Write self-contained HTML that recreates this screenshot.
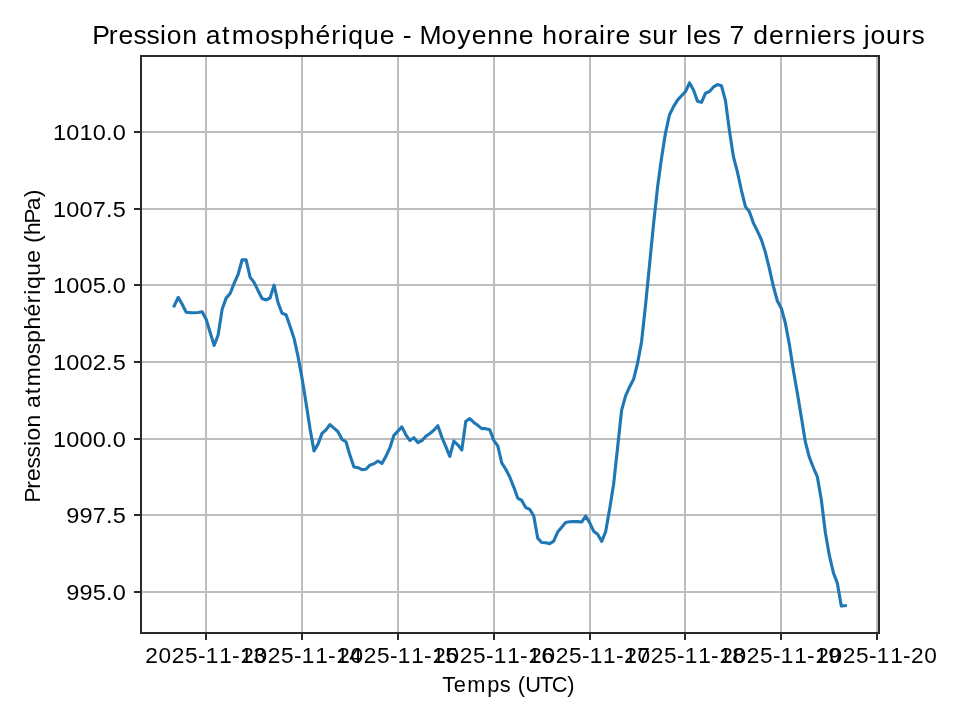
<!DOCTYPE html>
<html><head><meta charset="utf-8"><title>Pression atmosphérique</title>
<style>html,body{margin:0;padding:0;background:#fff;overflow:hidden}svg{display:block;will-change:transform}text{font-family:"Liberation Sans",sans-serif;fill:#000}</style></head><body>
<svg width="960" height="720" viewBox="0 0 960 720">
<rect x="0" y="0" width="960" height="720" fill="#ffffff"/>
<g fill="#bdbdbd" shape-rendering="crispEdges">
<rect x="205" y="57" width="2" height="575"/>
<rect x="301" y="57" width="2" height="575"/>
<rect x="397" y="57" width="2" height="575"/>
<rect x="493" y="57" width="2" height="575"/>
<rect x="589" y="57" width="2" height="575"/>
<rect x="684" y="57" width="2" height="575"/>
<rect x="780" y="57" width="2" height="575"/>
<rect x="876" y="57" width="2" height="575"/>
<rect x="142" y="131" width="736" height="2"/>
<rect x="142" y="208" width="736" height="2"/>
<rect x="142" y="284" width="736" height="2"/>
<rect x="142" y="361" width="736" height="2"/>
<rect x="142" y="438" width="736" height="2"/>
<rect x="142" y="514" width="736" height="2"/>
<rect x="142" y="591" width="736" height="2"/>
</g>
<path d="M174.20 305.95 L178.19 297.34 L182.19 304.22 L186.18 312.19 L190.18 312.59 L194.17 312.78 L198.17 312.56 L202.16 311.81 L206.16 319.25 L210.15 332.55 L214.15 345.45 L218.14 335.05 L222.13 309.35 L226.13 298.12 L230.12 293.55 L234.12 283.39 L238.11 274.35 L242.11 259.72 L246.10 259.88 L250.10 277.20 L254.09 282.34 L258.09 290.69 L262.08 298.48 L266.08 299.97 L270.07 297.99 L274.06 285.16 L278.06 302.75 L282.05 313.23 L286.05 314.69 L290.04 326.20 L294.04 338.38 L298.03 356.45 L302.03 378.14 L306.02 402.85 L310.02 428.73 L314.01 450.85 L318.00 444.13 L322.00 433.42 L325.99 429.84 L329.99 424.56 L333.98 428.15 L337.98 431.76 L341.97 439.31 L345.97 441.73 L349.96 455.32 L353.96 467.06 L357.95 467.63 L361.95 469.62 L365.94 469.27 L369.93 465.12 L373.93 463.79 L377.92 461.02 L381.92 463.40 L385.91 456.37 L389.91 447.75 L393.90 435.35 L397.90 431.18 L401.89 426.84 L405.89 434.92 L409.88 440.47 L413.88 437.75 L417.87 442.53 L421.86 440.61 L425.86 436.22 L429.85 433.43 L433.85 430.23 L437.84 425.77 L441.84 437.12 L445.83 446.58 L449.83 456.47 L453.82 441.04 L457.82 444.77 L461.81 450.12 L465.80 421.27 L469.80 418.54 L473.79 422.45 L477.79 425.34 L481.78 428.65 L485.78 428.65 L489.77 429.69 L493.77 440.34 L497.76 445.94 L501.76 463.01 L505.75 469.23 L509.75 476.95 L513.74 487.09 L517.73 498.06 L521.73 500.39 L525.72 507.52 L529.72 509.42 L533.71 515.72 L537.71 538.17 L541.70 542.56 L545.70 542.80 L549.69 543.65 L553.69 541.15 L557.68 532.05 L561.67 527.35 L565.67 522.55 L569.66 521.75 L573.66 521.65 L577.65 521.65 L581.65 522.05 L585.64 516.15 L589.64 522.55 L593.63 531.15 L597.63 534.25 L601.62 541.35 L605.62 531.85 L609.61 509.15 L613.60 484.26 L617.60 447.53 L621.59 410.35 L625.59 395.85 L629.58 386.95 L633.58 379.35 L637.57 363.25 L641.57 341.67 L645.56 304.93 L649.56 264.52 L653.55 224.04 L657.54 187.30 L661.54 158.02 L665.53 132.81 L669.53 114.69 L673.52 106.64 L677.52 100.17 L681.51 95.79 L685.51 91.55 L689.50 82.85 L693.50 89.95 L697.49 101.13 L701.48 102.29 L705.48 93.25 L709.47 91.46 L713.47 86.95 L717.46 84.57 L721.46 85.75 L725.45 100.55 L729.45 130.85 L733.44 156.72 L737.44 172.10 L741.43 190.27 L745.43 206.66 L749.42 211.78 L753.41 223.08 L757.41 231.07 L761.40 239.76 L765.40 252.38 L769.39 268.62 L773.39 286.30 L777.38 301.01 L781.38 308.53 L785.37 323.15 L789.37 344.55 L793.36 370.18 L797.36 393.19 L801.35 417.14 L805.34 441.88 L809.34 457.30 L813.33 467.49 L817.33 476.85 L821.32 499.69 L825.32 532.27 L829.31 555.17 L833.31 572.49 L837.30 583.12 L841.30 606.06 L845.29 605.65" fill="none" stroke="#1f77b4" stroke-width="3.125" stroke-linejoin="round" stroke-linecap="square"/>
<g fill="#2a2a2a" shape-rendering="crispEdges">
<rect x="140" y="55" width="2" height="579"/>
<rect x="878" y="55" width="2" height="579"/>
<rect x="140" y="55" width="740" height="2"/>
<rect x="140" y="632" width="740" height="2"/>
<rect x="205" y="634" width="2" height="6"/>
<rect x="301" y="634" width="2" height="6"/>
<rect x="397" y="634" width="2" height="6"/>
<rect x="493" y="634" width="2" height="6"/>
<rect x="589" y="634" width="2" height="6"/>
<rect x="684" y="634" width="2" height="6"/>
<rect x="780" y="634" width="2" height="6"/>
<rect x="876" y="634" width="2" height="6"/>
<rect x="134" y="131" width="6" height="2"/>
<rect x="134" y="208" width="6" height="2"/>
<rect x="134" y="284" width="6" height="2"/>
<rect x="134" y="361" width="6" height="2"/>
<rect x="134" y="438" width="6" height="2"/>
<rect x="134" y="514" width="6" height="2"/>
<rect x="134" y="591" width="6" height="2"/>
</g>
<text x="92.21 108.82 118.44 133.39 146.41 160.08 166.77 182.34 197.93 205.87 222.12 231.84 255.33 270.24 283.94 299.80 315.41 331.20 341.28 348.26 364.12 379.73 395.08 402.83 412.05 419.45 441.55 457.34 471.69 487.30 503.14 518.76 534.11 542.32 557.89 573.63 583.47 599.03 605.92 615.55 630.90 638.44 652.13 668.15 677.99 686.18 692.91 707.86 721.29 729.53 745.14 753.36 768.99 784.52 794.38 810.20 816.94 832.72 842.16 855.59 863.78 870.47 886.04 902.06 911.50" y="43.7" font-size="26.5">Pression atmosphérique - Moyenne horaire sur les 7 derniers jours</text>
<text x="442.15 453.79 467.36 487.17 499.85 511.03 517.82 525.29 539.89 551.71 567.32" y="691.8" font-size="21.8">Temps (UTC)</text>
<text x="-155.93 -142.11 -134.28 -121.90 -111.13 -99.74 -94.32 -81.44 -68.46 -61.99 -48.46 -40.62 -21.10 -8.76 2.55 15.66 28.57 41.70 50.07 55.73 68.83 81.74 94.53 101.22 109.28 120.38 133.76 146.65" y="0" font-size="22.6" transform="translate(40.0 345.32) rotate(-90) scale(1.01 1)">Pression atmosphérique (hPa)</text>
<text x="140.97 153.87 166.76 179.66 192.21 199.86 212.76 225.32 232.97 245.86" y="663.3" font-size="22.0" transform="scale(1.03 1)">2025-11-13</text>
<text x="234.18 247.07 259.97 272.86 285.42 293.07 305.96 318.52 326.17 339.06" y="663.3" font-size="22.0" transform="scale(1.03 1)">2025-11-14</text>
<text x="327.38 340.27 353.17 366.06 378.62 386.27 399.17 411.72 419.37 432.27" y="663.3" font-size="22.0" transform="scale(1.03 1)">2025-11-15</text>
<text x="420.58 433.48 446.37 459.27 471.83 479.48 492.37 504.93 512.58 525.47" y="663.3" font-size="22.0" transform="scale(1.03 1)">2025-11-16</text>
<text x="513.79 526.68 539.58 552.47 565.03 572.68 585.57 598.13 605.78 618.68" y="663.3" font-size="22.0" transform="scale(1.03 1)">2025-11-17</text>
<text x="606.02 618.92 631.81 644.70 657.26 664.91 677.81 690.36 698.01 710.91" y="663.3" font-size="22.0" transform="scale(1.03 1)">2025-11-18</text>
<text x="699.22 712.12 725.01 737.91 750.47 758.12 771.01 783.57 791.22 804.11" y="663.3" font-size="22.0" transform="scale(1.03 1)">2025-11-19</text>
<text x="792.43 805.32 818.22 831.11 843.67 851.32 864.21 876.77 884.42 897.32" y="663.3" font-size="22.0" transform="scale(1.03 1)">2025-11-20</text>
<text x="50.97 63.74 76.51 89.29 102.01 108.44" y="139.9" font-size="22.6" transform="scale(1.04 1)">1010.0</text>
<text x="50.97 63.74 76.51 89.29 102.01 108.44" y="216.9" font-size="22.6" transform="scale(1.04 1)">1007.5</text>
<text x="50.97 63.74 76.51 89.29 102.01 108.44" y="292.9" font-size="22.6" transform="scale(1.04 1)">1005.0</text>
<text x="50.97 63.74 76.51 89.29 102.01 108.44" y="369.9" font-size="22.6" transform="scale(1.04 1)">1002.5</text>
<text x="50.97 63.74 76.51 89.29 102.01 108.44" y="446.9" font-size="22.6" transform="scale(1.04 1)">1000.0</text>
<text x="63.74 76.51 89.29 102.01 108.44" y="522.9" font-size="22.6" transform="scale(1.04 1)">997.5</text>
<text x="63.74 76.51 89.29 102.01 108.44" y="599.9" font-size="22.6" transform="scale(1.04 1)">995.0</text>
</svg>
</body></html>
